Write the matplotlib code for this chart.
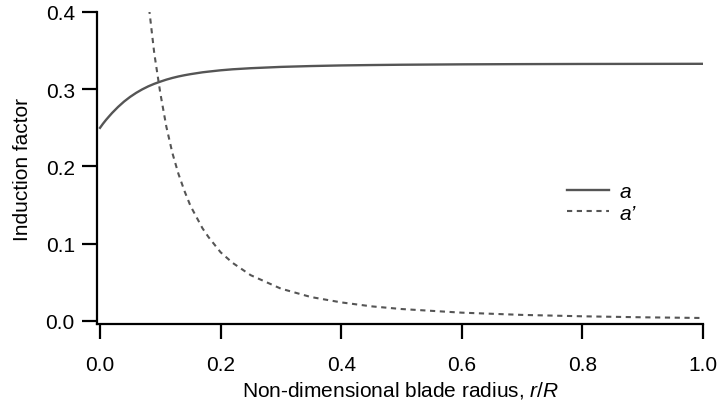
import matplotlib.pyplot as plt

plt.rcParams['font.family'] = ['Liberation Sans', 'DejaVu Sans']
plt.rcParams['font.size'] = 15
plt.rcParams['mathtext.fontset'] = 'custom'
plt.rcParams['mathtext.rm'] = 'Liberation Sans'
plt.rcParams['mathtext.it'] = 'Liberation Sans:italic'

# values
r_a = [0.0, 0.005, 0.01, 0.015, 0.02, 0.03, 0.04, 0.05, 0.06, 0.07, 0.08, 0.09, 0.10,
       0.11, 0.12, 0.13, 0.14, 0.15, 0.17, 0.18, 0.20, 0.22, 0.25, 0.30, 0.35, 0.40,
       0.45, 0.50, 0.60, 0.70, 0.80, 0.90, 1.0]
a = [0.250, 0.2554, 0.2603, 0.2648, 0.2692, 0.2771, 0.2841, 0.2901, 0.2953, 0.2998,
     0.3037, 0.3070, 0.3098, 0.3124, 0.3146, 0.3165, 0.3181, 0.3195, 0.3219, 0.3228,
     0.3245, 0.3258, 0.3272, 0.3289, 0.3300, 0.3308, 0.3313, 0.3317, 0.3322, 0.3325,
     0.3327, 0.3328, 0.3329]

r_ap = [0.075, 0.08, 0.09, 0.10, 0.11, 0.12, 0.13, 0.14, 0.15, 0.17, 0.18, 0.20, 0.22,
        0.25, 0.30, 0.35, 0.40, 0.45, 0.50, 0.60, 0.70, 0.80, 0.90, 1.0]
a_prime = [0.457, 0.414, 0.3465, 0.295, 0.2516, 0.2175, 0.1906, 0.1684, 0.149, 0.1199,
           0.1085, 0.0889, 0.0751, 0.0592, 0.0418, 0.0309, 0.024, 0.0189, 0.0154, 0.0107,
           0.0078, 0.0060, 0.0047, 0.0038]

xticks = [0.0, 0.2, 0.4, 0.6, 0.8, 1.0]
yticks = [0.0, 0.1, 0.2, 0.3, 0.4]

fig = plt.figure(figsize=(7.2, 4.02), dpi=100)
ax = fig.add_axes([0.1347, 0.1915, 0.8417, 0.7762])

ax.plot(r_a, a, color='#555555', lw=1.7, label='a')
ax.plot(r_ap, a_prime, color='#555555', lw=1.5, linestyle=(0, (2.5, 2.2)), label='a\u2019')

ax.set_xlim(-0.005, 1.0)
ax.set_ylim(-0.004, 0.4)
ax.set_xticks(xticks)
ax.set_yticks(yticks)
ax.set_xticklabels(['%.1f' % t for t in xticks])
ax.set_yticklabels(['%.1f' % t for t in yticks])

for s in ['top', 'right']:
    ax.spines[s].set_visible(False)
for s in ['left', 'bottom']:
    ax.spines[s].set_linewidth(1.6)
ax.tick_params(direction='out', length=11, width=1.6, colors='black')
ax.tick_params(axis='x', pad=11)
ax.tick_params(axis='y', pad=5)

ax.set_xlabel('Non-dimensional blade radius, $r/R$', labelpad=4)
ax.set_ylabel('Induction factor', labelpad=10)

leg = ax.legend(loc='center left', bbox_to_anchor=(0.745, 0.39), frameon=False,
                handlelength=2.0, handletextpad=0.5, labelspacing=0.12,
                prop={'size': 15, 'style': 'italic'})

fig.savefig('out.png', dpi=100)
